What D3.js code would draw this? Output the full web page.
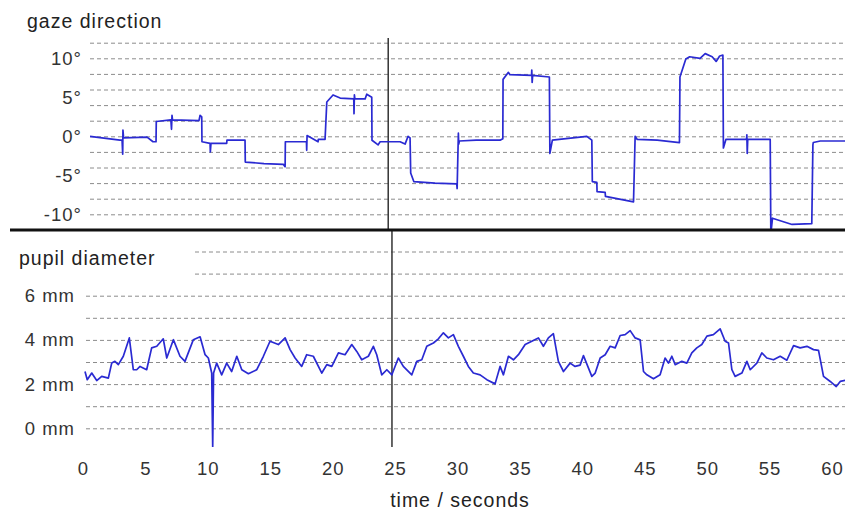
<!DOCTYPE html>
<html>
<head>
<meta charset="utf-8">
<script src="https://cdnjs.cloudflare.com/ajax/libs/d3/7.9.0/d3.min.js"></script>
<style>
  html, body { margin: 0; padding: 0; background: #fff; }
  svg { display: block; font-family: "Liberation Sans", Arial, sans-serif; }
  .grid line { stroke: #8c8c8c; stroke-dasharray: 4 3; stroke-width: 1; }
  .grid path, .lbl path, .xax path { display: none; }
  .lbl text, .xax text { fill: #333; font-size: 18.5px; letter-spacing: 1px; }
</style>
</head>
<body>
<svg id="chart" width="845" height="514"></svg>
<script>
// gaze direction (degrees) over time (seconds)
const gazeT = [0.56, 2.96, 3.13, 3.18, 3.2, 3.25, 5.13, 5.61, 5.85, 5.87, 7.04, 7.09, 7.13, 7.17, 9.29, 9.38, 9.51, 9.53,
  10.18, 10.2, 10.25, 11.51, 11.53, 12.98, 13.0, 14.5, 16.05, 16.19, 16.21, 17.9, 17.92, 17.95, 18.83, 18.85, 19.39,
  19.53, 20.03, 20.6, 21.69, 21.71, 21.74, 21.78, 22.6, 22.73, 23.13, 23.15, 23.64, 23.8, 25.4, 25.8, 26.04, 26.2, 26.25,
  26.5, 28.2, 29.94, 29.97, 30.07, 30.1, 30.15, 31.5, 33.41, 33.63, 33.65, 34.08, 34.2, 35.93, 35.95, 35.98, 36.02, 37.36,
  37.4, 37.6, 40.36, 40.76, 40.8, 41.16, 41.18, 41.83, 41.85, 44.1, 44.23, 44.4, 46.0, 47.78, 47.82, 48.29, 48.6, 49.43,
  49.84, 50.4, 50.72, 51.0, 51.26, 51.3, 51.5, 53.15, 53.18, 53.21, 53.25, 55.05, 55.1, 55.2, 55.23, 56.8, 58.38, 58.47,
  58.5, 59.06, 61.06];
const gazeDeg = [0.0, -0.5, -0.5, -2.3, 0.8, -0.2, -0.1, -0.7, -0.7, 1.9, 2.1, 0.9, 2.7, 2.1, 2.0, 2.7, 2.5, -0.7,
  -0.9, -2.0, -0.9, -0.9, -0.5, -0.5, -3.3, -3.5, -3.6, -3.9, -0.7, -0.7, -1.8, 0.1, -0.7, -0.4, -0.4,
  4.4, 5.3, 4.9, 4.8, 2.9, 5.3, 4.8, 4.8, 5.4, 5.0, -0.5, -1.1, -0.7, -0.7, -1.0, 0.0, -0.2, -4.7,
  -5.8, -6.0, -6.1, -6.7, 0.4, -1.0, -0.6, -0.5, -0.5, -0.3, 7.3, 8.2, 7.9, 7.8, 8.5, 6.9, 7.8, 7.6,
  -2.2, -0.5, 0.0, -0.5, -5.8, -5.9, -7.1, -7.2, -7.7, -8.4, 0.0, -0.4, -0.5, -0.8, 7.6, 9.9, 10.2, 10.0,
  10.6, 10.2, 9.6, 10.3, 10.4, -1.5, -0.4, -0.4, 0.2, -2.2, -0.4, -0.4, -12.5, -11.0, -10.5, -11.3, -11.2, -1.1,
  -0.8, -0.6, -0.6];

// pupil diameter (mm) over time (seconds)
const pupilT = [0.16, 0.34, 0.70, 1.10, 1.50, 2.03, 2.30, 2.56, 2.83, 3.23, 3.71, 4.03, 4.30, 4.57, 5.10, 5.50, 5.91,
  6.43, 6.71, 7.24, 7.77, 8.17, 8.84, 9.38, 9.78, 10.04, 10.31, 10.39, 10.46, 10.71, 11.11, 11.51, 11.91, 12.32,
  12.72, 13.25, 13.92, 14.45, 14.98, 15.65, 16.19, 16.59, 16.99, 17.52, 17.92, 18.45, 19.13, 19.53, 19.93, 20.46,
  20.99, 21.53, 21.93, 22.33, 22.86, 23.26, 23.53, 23.93, 24.34, 24.74, 25.26, 25.66, 26.34, 26.74, 27.14, 27.54,
  28.07, 28.47, 28.87, 29.27, 29.67, 30.07, 30.47, 30.87, 31.27, 31.81, 32.35, 33.01, 33.41, 33.68, 34.08, 34.48,
  34.88, 35.42, 35.95, 36.48, 36.88, 37.28, 37.68, 38.08, 38.49, 39.02, 39.42, 39.82, 40.09, 40.76, 41.03, 41.43,
  41.83, 42.23, 42.63, 43.03, 43.43, 43.83, 44.23, 44.63, 44.90, 45.17, 45.70, 46.23, 46.63, 46.90, 47.17, 47.44,
  47.97, 48.37, 48.77, 49.17, 49.57, 49.98, 50.50, 51.04, 51.44, 51.71, 51.98, 52.24, 52.78, 53.18, 53.45, 53.98,
  54.38, 54.78, 55.31, 55.85, 56.38, 56.92, 57.45, 57.99, 58.52, 58.92, 59.32, 59.86, 60.34, 60.66, 61.06];
const pupilMm = [2.57, 2.2, 2.5, 2.16, 2.35, 2.27, 2.95, 3.03, 2.88, 3.26, 4.09, 2.65, 2.65, 2.8, 2.65, 3.64, 3.71,
  4.05, 3.18, 4.01, 3.26, 3.03, 4.01, 4.14, 3.33, 3.18, 2.5, -0.84, 2.5, 2.95, 2.42, 2.95, 2.57, 3.26,
  2.65, 2.47, 2.65, 3.26, 3.94, 3.79, 4.09, 3.56, 3.18, 2.8, 3.33, 3.26, 2.5, 2.88, 2.8, 3.41,
  3.33, 3.79, 3.48, 3.1, 3.26, 3.71, 3.33, 2.42, 2.65, 2.42, 3.18, 2.8, 2.42, 3.03, 3.1, 3.71,
  3.86, 4.05, 4.32, 4.09, 4.24, 3.71, 3.26, 2.8, 2.5, 2.42, 2.2, 2.01, 2.8, 2.42, 3.26, 3.1,
  3.33, 3.79, 3.94, 4.09, 3.71, 4.09, 4.28, 3.03, 2.57, 2.95, 2.8, 2.86, 3.29, 2.35, 2.5, 3.18,
  3.33, 3.71, 3.64, 4.2, 4.24, 4.42, 4.09, 4.0, 2.57, 2.42, 2.24, 2.42, 3.18, 2.95, 3.26, 2.88,
  3.03, 2.95, 3.41, 3.64, 3.79, 4.17, 4.24, 4.5, 3.94, 3.86, 2.65, 2.35, 2.5, 3.03, 2.65, 2.95,
  3.41, 3.18, 3.1, 3.26, 3.08, 3.74, 3.64, 3.71, 3.56, 3.53, 2.35, 2.12, 1.89, 2.12, 2.17];

const xTicks = [0, 5, 10, 15, 20, 25, 30, 35, 40, 45, 50, 55, 60];
const gazeTicks = [-10, -5, 0, 5, 10];
const gazeGrid = [-10, -8, -6, -4, -2, 0, 2, 4, 6, 8, 10, 12];
const pupilTicks = [0, 2, 4, 6];
const pupilGridLow = [0, 1, 2, 3, 4, 5, 6];
const pupilGridHigh = [7, 8];
const markerTop = 24.45;   // vertical marker, gaze panel
const markerBottom = 24.75; // vertical marker, pupil panel

const W = 845, H = 514;
const LINE = '#2a2ad2';
const svg = d3.select('#chart');

const x = d3.scaleLinear().domain([0, 60]).range([83, 832]);
const yGaze = d3.scaleLinear().domain([-10, 10]).range([214.3, 58.3]);
const yPupil = d3.scaleLinear().domain([0, 6]).range([428.3, 295.7]);

// gridlines
function grid(scale, values, x0) {
  svg.append('g').attr('class', 'grid').attr('transform', `translate(${x0},0)`)
    .call(d3.axisLeft(scale).tickValues(values).tickSize(-(W - x0)).tickFormat(''));
}
grid(yGaze, gazeGrid, 90);
grid(yPupil, pupilGridLow, 86);
grid(yPupil, pupilGridHigh, 195);

// tick labels
svg.append('g').attr('class', 'lbl').attr('transform', 'translate(82,0)')
  .call(d3.axisLeft(yGaze).tickValues(gazeTicks).tickSize(0).tickPadding(0).tickFormat(d => `${d}°`));
svg.append('g').attr('class', 'lbl').attr('transform', 'translate(75,0)')
  .call(d3.axisLeft(yPupil).tickValues(pupilTicks).tickSize(0).tickPadding(0).tickFormat(d => `${d} mm`));
svg.append('g').attr('class', 'xax').attr('transform', 'translate(0,462)')
  .call(d3.axisBottom(x).tickValues(xTicks).tickSize(0).tickPadding(0).tickFormat(d3.format('d')));

// titles
const title = (txt, tx, ty, anchor) => svg.append('text').text(txt)
  .attr('x', tx).attr('y', ty).attr('text-anchor', anchor || 'start')
  .attr('fill', '#222').style('font-size', '19.5px').style('letter-spacing', '1px');
title('gaze direction', 27, 28);
title('pupil diameter', 19, 265);
title('time / seconds', 460, 507, 'middle');

// clip regions
const defs = svg.append('defs');
defs.append('clipPath').attr('id', 'clipTop').append('rect')
  .attr('x', 0).attr('y', 36).attr('width', W).attr('height', 193);
defs.append('clipPath').attr('id', 'clipBot').append('rect')
  .attr('x', 0).attr('y', 232).attr('width', W).attr('height', 215);

// vertical markers
svg.append('line').attr('x1', x(markerTop)).attr('x2', x(markerTop)).attr('y1', 38).attr('y2', 230)
  .attr('stroke', '#333').attr('stroke-width', 1.5);
svg.append('line').attr('x1', x(markerBottom)).attr('x2', x(markerBottom)).attr('y1', 230).attr('y2', 447)
  .attr('stroke', '#333').attr('stroke-width', 1.5);

// data lines
const gaze = gazeT.map((t, i) => [t, gazeDeg[i]]);
const pupil = pupilT.map((t, i) => [t, pupilMm[i]]);

svg.append('path').datum(gaze).attr('clip-path', 'url(#clipTop)')
  .attr('fill', 'none').attr('stroke', LINE).attr('stroke-width', 1.7).attr('stroke-linejoin', 'round')
  .attr('d', d3.line().x(d => x(d[0])).y(d => yGaze(d[1])));
svg.append('path').datum(pupil).attr('clip-path', 'url(#clipBot)')
  .attr('fill', 'none').attr('stroke', LINE).attr('stroke-width', 1.7).attr('stroke-linejoin', 'round')
  .attr('d', d3.line().x(d => x(d[0])).y(d => yPupil(d[1])));

// panel separator
svg.append('line').attr('x1', 10).attr('x2', W).attr('y1', 230).attr('y2', 230)
  .attr('stroke', '#111').attr('stroke-width', 3);
</script>
</body>
</html>
